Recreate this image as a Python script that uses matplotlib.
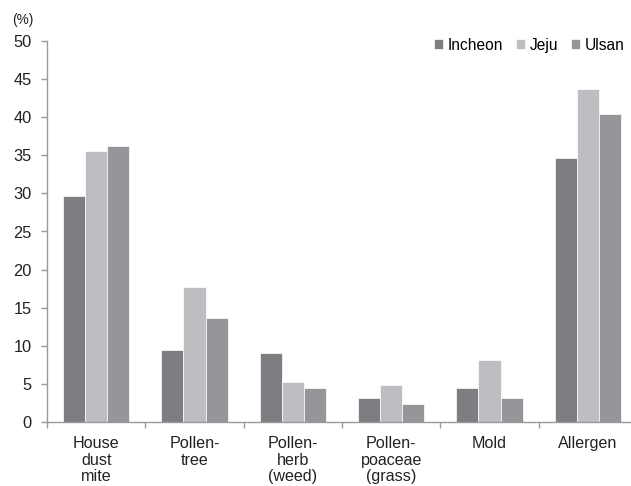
import matplotlib
matplotlib.use("Agg")
import matplotlib.pyplot as plt
import numpy as np

categories = ["House\ndust\nmite", "Pollen-\ntree", "Pollen-\nherb\n(weed)",
              "Pollen-\npoaceae\n(grass)", "Mold", "Allergen"]
series_names = ["Incheon", "Jeju", "Ulsan"]
incheon = [29.6, 9.4, 9.0, 3.1, 4.5, 34.6]
jeju = [35.6, 17.7, 5.2, 4.9, 8.1, 43.7]
ulsan = [36.2, 13.6, 4.4, 2.4, 3.2, 40.4]
colors = ["#7d7e82", "#bdbec2", "#95969a"]

plt.rcParams['font.family'] = ['Liberation Sans', 'DejaVu Sans']

W, H = 631, 486
fig = plt.figure(figsize=(W / 100, H / 100), dpi=100)
x0, x1 = 47, 637
y0, y1 = 422, 41
ax = fig.add_axes([x0 / W, 1 - y0 / H, (x1 - x0) / W, (y0 - y1) / H])

x = np.arange(len(categories))
bw = 0.225
for i, (vals, c, n) in enumerate(zip([incheon, jeju, ulsan], colors, series_names)):
    ax.bar(x + (i - 1) * bw, vals, bw, color=c, label=n, edgecolor='white', linewidth=0.5)

ax.set_xlim(-0.5, len(categories) - 0.5)
ax.set_ylim(0, 50)
ax.set_yticks(np.arange(0, 51, 5))
ax.set_xticks(x)
ax.set_xticklabels(categories, fontsize=11.6, color='#222222', linespacing=1.15)
ax.set_xticks(np.arange(-0.5, len(categories), 1), minor=True)
ax.tick_params(axis='x', which='major', length=0, pad=10)
ax.tick_params(axis='x', which='minor', length=4, color='#999999', width=1)
ax.tick_params(axis='y', length=4, color='#999999', width=1, labelsize=11.8,
               labelcolor='#222222', pad=7)
for s in ['top', 'right']:
    ax.spines[s].set_visible(False)
for s in ['left', 'bottom']:
    ax.spines[s].set_color('#999999')
    ax.spines[s].set_linewidth(1)

fig.text(12 / W, 1 - 20 / H, "(%)", fontsize=9.8, color='#222222', va='center', ha='left')

leg = ax.legend(loc='upper right', bbox_to_anchor=((626 - x0) / (x1 - x0), 1.0 + 5 / (y0 - y1)),
                ncol=3, frameon=False, fontsize=11.2, handlelength=0.6, handleheight=0.6,
                handletextpad=0.3, columnspacing=0.8, borderaxespad=0.0, borderpad=0.1)

fig.savefig("out.png", dpi=100)
